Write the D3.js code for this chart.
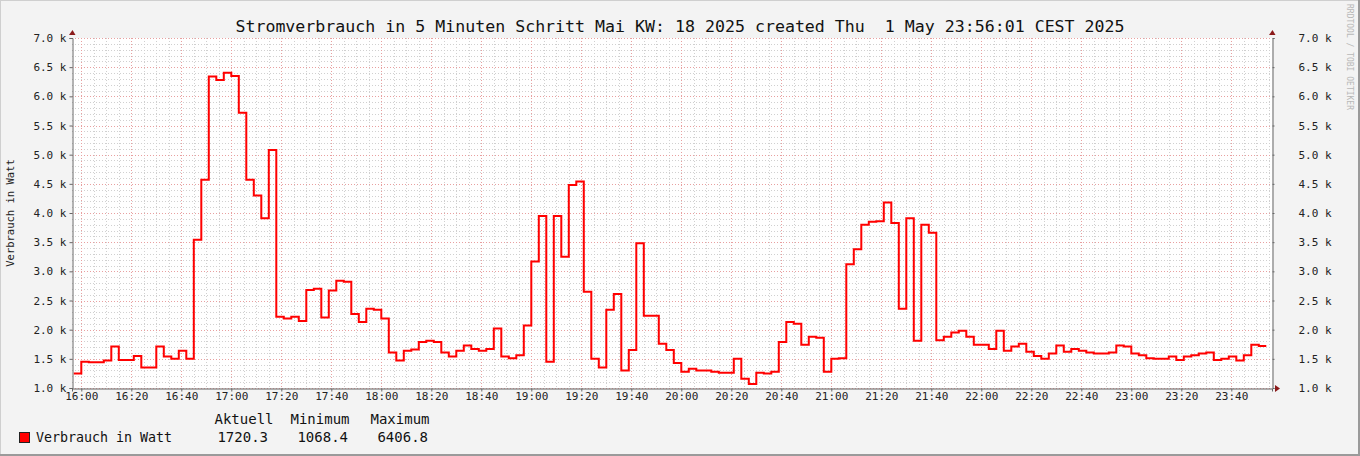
<!DOCTYPE html>
<html><head><meta charset="utf-8">
<script src="https://cdn.jsdelivr.net/npm/d3@7"></script>
<style>body{margin:0;background:#f3f3f3}svg{display:block}text{font-family:"DejaVu Sans Mono",monospace;white-space:pre}</style>
</head><body>
<script>
const title = "Stromverbrauch in 5 Minuten Schritt Mai KW: 18 2025 created Thu  1 May 23:56:01 CEST 2025";
const yLabel = "Verbrauch in Watt";
const seriesName = "Verbrauch in Watt";
const legendHeads = ["Aktuell","Minimum","Maximum"];
const legendValues = ["1720.3","1068.4","6406.8"];
const yTicks = [1000,1500,2000,2500,3000,3500,4000,4500,5000,5500,6000,6500,7000];
const startMinute = 15*60+57; // first step start (minutes of day)
const stepMinutes = 3;
const values = [
1250,1450,1440,1440,1470,1710,1480,1480,1550,1350,1350,1710,1540,1500,1640,1500,3540,4570,6340,6280,6406,6350,5720,4570,4300,3910,5080,2220,2190,2220,2150,2680,2700,2210,2670,2840,2820,2270,2130,2360,
2340,2190,1610,1470,1640,1660,1790,1810,1790,1610,1540,1640,1730,1670,1640,1670,2020,1540,1510,1560,2070,3170,3950,1450,3950,3250,4480,4540,2650,1500,1350,2340,2610,1300,1650,3480,2240,2240,1760,1650,
1430,1280,1330,1300,1300,1280,1260,1260,1500,1160,1068,1260,1250,1280,1790,2130,2100,1740,1880,1860,1280,1500,1510,3120,3380,3800,3850,3860,4180,3830,2360,3910,1810,3800,3660,1820,1880,1950,1980,1880,
1740,1740,1670,1980,1640,1710,1760,1620,1550,1500,1590,1730,1620,1670,1640,1610,1590,1590,1610,1730,1710,1590,1560,1510,1500,1500,1540,1480,1540,1560,1590,1610,1480,1500,1540,1470,1560,1740,1720];

const W=1360,H=456, L=72, R=1272, T=38, B=388;
const svg=d3.select("body").append("svg").attr("width",W).attr("height",H);
svg.append("rect").attr("width",W).attr("height",H).attr("fill","#f3f3f3");
svg.append("rect").attr("x",0.5).attr("y",0.5).attr("width",W-1).attr("height",H-1).attr("fill","none").attr("stroke","#cfcfcf");
svg.append("line").attr("x1",W-1).attr("x2",W-1).attr("y1",0).attr("y2",H).attr("stroke","#9a9a9a").attr("stroke-width",2);
svg.append("line").attr("x1",0).attr("x2",W).attr("y1",H-1).attr("y2",H-1).attr("stroke","#9a9a9a").attr("stroke-width",2);

const t0=16*60-(81.3-72)/2.5;
const x=d3.scaleLinear().domain([t0,t0+480]).range([L,R]);
const y=d3.scaleLinear().domain([1000,7000]).range([B,T]);
svg.append("rect").attr("x",L).attr("y",T).attr("width",R-L).attr("height",B-T).attr("fill","#fff");

const g=svg.append("g");
for(let m=Math.ceil(t0/5)*5;m<=t0+480;m+=5){ if(m%20===0) continue;
 g.append("line").attr("x1",Math.round(x(m))+.5).attr("x2",Math.round(x(m))+.5).attr("y1",T).attr("y2",B).attr("stroke","#d0d0d0").attr("stroke-dasharray","1,2");}
for(let v=1100;v<7000;v+=100){ if(v%500===0) continue;
 g.append("line").attr("x1",L).attr("x2",R).attr("y1",Math.round(y(v))+.5).attr("y2",Math.round(y(v))+.5).attr("stroke","#d0d0d0").attr("stroke-dasharray","1,2");}
const majors=d3.range(16*60,24*60,20);
majors.forEach(m=>g.append("line").attr("x1",Math.round(x(m))+.5).attr("x2",Math.round(x(m))+.5).attr("y1",T).attr("y2",B).attr("stroke","#e8a0a0").attr("stroke-dasharray","1,2"));
yTicks.forEach(v=>g.append("line").attr("x1",L).attr("x2",R).attr("y1",Math.round(y(v))+.5).attr("y2",Math.round(y(v))+.5).attr("stroke","#e8a0a0").attr("stroke-dasharray","1,2"));

const fmtT=m=>String(Math.floor(m/60)).padStart(2,"0")+":"+String(m%60).padStart(2,"0");
const xa=svg.append("g").attr("transform",`translate(0,${B+0.5})`).call(d3.axisBottom(x).tickValues(majors).tickFormat(fmtT).tickSize(3).tickPadding(1));
xa.select(".domain").attr("stroke","#666");
xa.selectAll("line").attr("stroke","#666");
xa.selectAll("text").attr("font-size",11).attr("fill","#222").attr("font-family","DejaVu Sans Mono").attr("dy","0.71em");
const fmtY=v=>(v/1000).toFixed(1)+" k";
const yl=svg.append("g").attr("transform",`translate(${L+0.5},0)`).call(d3.axisLeft(y).tickValues(yTicks).tickFormat(fmtY).tickSize(3).tickPadding(3));
const yr=svg.append("g").attr("transform",`translate(${R+0.5},0)`).call(d3.axisRight(y).tickValues(yTicks).tickFormat(fmtY).tickSize(2).tickPadding(24));
[yl,yr].forEach(a=>{a.select(".domain").attr("stroke","#666");a.selectAll("line").attr("stroke","#666");
 a.selectAll("text").attr("font-size",11).attr("fill","#222").attr("font-family","DejaVu Sans Mono");});
svg.append("path").attr("d",`M${L-3},${T-3}L${L+3.5},${T-3}L${L+0.5},${T-8}Z`).attr("fill","#8b1a1a");
svg.append("path").attr("d",`M${R-3},${T-3}L${R+3.5},${T-3}L${R+0.5},${T-8}Z`).attr("fill","#8b1a1a");
svg.append("path").attr("d",`M${R+3},${B-3}L${R+3},${B+4}L${R+8},${B+0.5}Z`).attr("fill","#8b1a1a");

const pts=[];
values.forEach((v,i)=>{const s=Math.max(t0,startMinute+i*stepMinutes);pts.push([s,v]);pts.push([startMinute+(i+1)*stepMinutes,v]);});
svg.append("path").attr("d",d3.line().x(d=>x(d[0])).y(d=>y(d[1]))(pts)).attr("fill","none").attr("stroke","#ff0000").attr("stroke-width",2);

svg.append("text").attr("x",680).attr("y",32).attr("text-anchor","middle").attr("font-size",16.6).attr("fill","#111").text(title);
svg.append("text").attr("transform","translate(14,213) rotate(-90)").attr("text-anchor","middle").attr("font-size",10.5).attr("fill","#222").text(yLabel);
svg.append("text").attr("transform","translate(1347,4) rotate(90)").attr("font-size",8).attr("fill","#b8b8b8").text("RRDTOOL / TOBI OETIKER");
const hx=[244,320,400];
legendHeads.forEach((h,i)=>svg.append("text").attr("x",hx[i]).attr("y",424).attr("text-anchor","middle").attr("font-size",14).attr("fill","#111").text(h));
const vx=[268,348,428];
legendValues.forEach((h,i)=>svg.append("text").attr("x",vx[i]).attr("y",442).attr("text-anchor","end").attr("font-size",14).attr("fill","#111").text(h));
svg.append("rect").attr("x",19.5).attr("y",432.5).attr("width",10).attr("height",10).attr("fill","#ff0000").attr("stroke","#222");
svg.append("text").attr("x",36).attr("y",442).attr("font-size",13.3).attr("fill","#111").text(seriesName);
</script>
</body></html>
